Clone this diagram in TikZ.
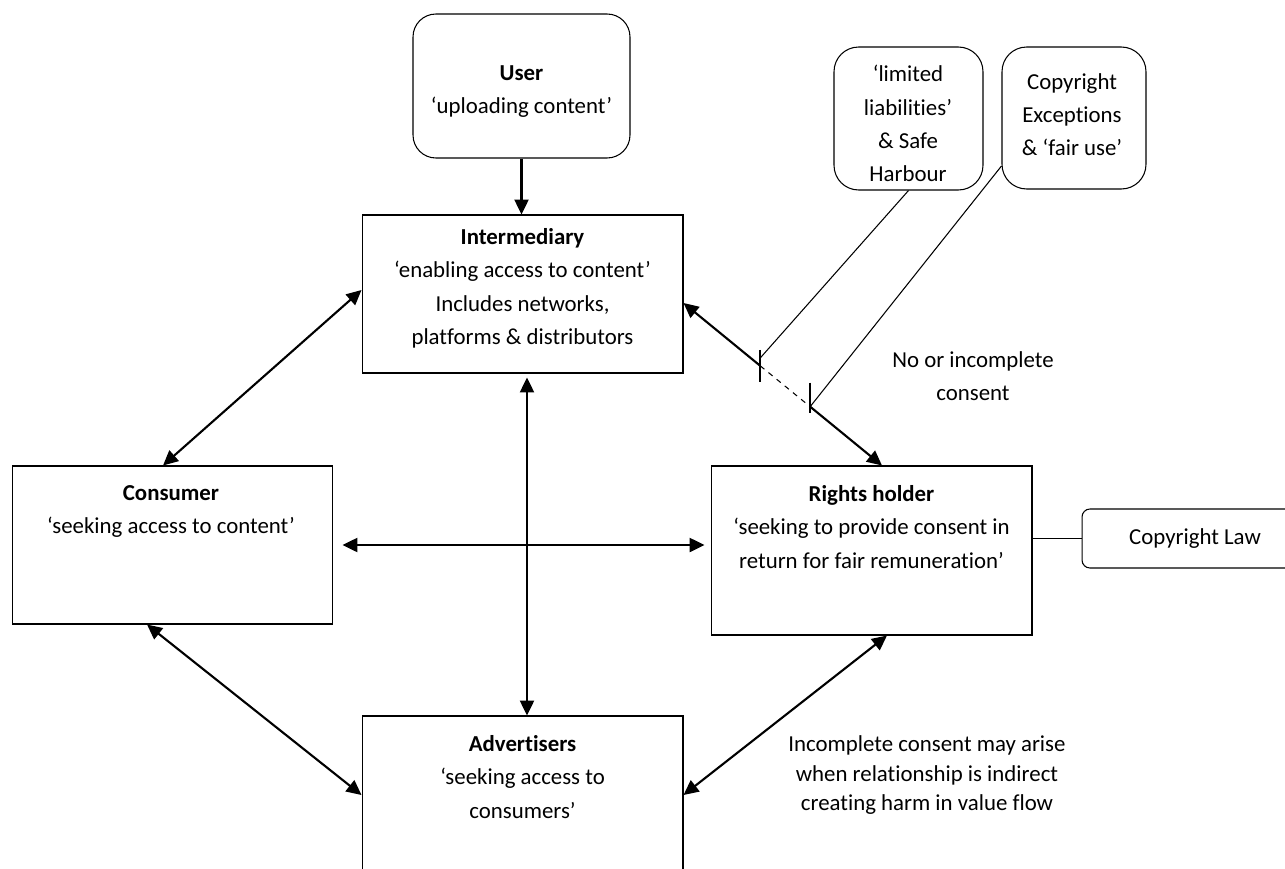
\documentclass[tikz,border=0pt]{standalone}
\usepackage{fontspec}
\setmainfont{Carlito}[Ligatures=NoCommon]
\usetikzlibrary{arrows.meta,calc}
\pgfkeys{/pixel/.code=\tikzset{x={(0.02cm,0cm)},y={(0cm,-0.02cm)}}}

\begin{document}
\begin{tikzpicture}[/pixel,
  font=\fontsize{13pt}{19pt}\selectfont,
  box/.style={draw,line width=.6pt,inner sep=0pt,minimum width=6.42cm,minimum height=3.16cm},
  rbox/.style={box,rounded corners=#1},
  txt/.style={align=center,inner sep=0pt,anchor=north},
  arr/.style={line width=1.2pt,-{Triangle[length=8.5pt,width=8pt]}},
  darr/.style={line width=1.2pt,{Triangle[length=8.5pt,width=8pt]}-{Triangle[length=8.5pt,width=8pt]}},
  link/.style={line width=.6pt},
  tick/.style={line width=1.2pt}]
\useasboundingbox (0,0) rectangle (1285,869);
% boxes
\node[rbox=13pt,minimum width=4.34cm,minimum height=2.88cm] (user) at (521.5,86) {};
\node[box] (inter) at (522.5,294) {};
\node[box] (cons) at (172.5,545) {};
\node[box,minimum height=3.38cm] (rights) at (871.5,550.5) {};
\node[box] (adv) at (522.5,795) {};
\node[rbox=14pt,minimum width=2.98cm,minimum height=2.86cm] (lim) at (908.5,118.5) {};
\node[rbox=14pt,minimum width=2.88cm,minimum height=2.84cm] (exc) at (1074,118) {};
\node[rbox=4.5pt,minimum width=4.52cm,minimum height=1.18cm] (law) at (1195,538.5) {Copyright Law};
% texts
\node[txt] (usertxt) at (521.5,65) {\textbf{User}\\‘uploading content’};
\node[txt] (intertxt) at (522.5,228) {\textbf{Intermediary}\\‘enabling access to content’\\Includes networks,\\platforms \& distributors};
\node[txt] (constxt) at (171,485) {\textbf{Consumer}\\‘seeking access to content’};
\node[txt] (rightstxt) at (871.5,485) {\textbf{Rights holder}\\‘seeking to provide consent in\\return for fair remuneration’};
\node[txt] (advtxt) at (522.5,735) {\textbf{Advertisers}\\‘seeking access to\\consumers’};
\node[txt] (limtxt) at (908,65) {‘limited\\liabilities’\\\& Safe\\Harbour};
\node[txt] (exctxt) at (1072,73) {Copyright\\Exceptions\\\& ‘fair use’};
\node[txt] (nocons) at (973,351) {No or incomplete\\consent};
\node[txt,font=\fontsize{13pt}{17pt}\selectfont] (incons) at (927,735) {Incomplete consent may arise\\when relationship is indirect\\creating harm in value flow};
% arrows
\draw[arr] (user.south) -- (user.south |- inter.north);
\draw[darr] ([xshift=-.19cm]cons.north) -- ([yshift=.08cm]inter.west);
\draw[darr] ([xshift=.18cm]cons.east) -- ([xshift=-.12cm]rights.west |- cons.east);
\draw[darr] ([xshift=.09cm,yshift=-.08cm]inter.south) -- ([xshift=.09cm]adv.north);
\draw[darr] ([xshift=-.51cm]cons.south) -- (adv.west);
\draw[darr] ([xshift=.31cm]rights.south) -- (adv.east);
\draw[link] (law.west -| rights.east) -- (law.west);
% intermediary to rights holder, broken by exceptions
\coordinate (p1) at ([yshift=-.18cm]inter.east);
\coordinate (p2) at ([xshift=.21cm]rights.north);
\coordinate (t1) at ($(p1)!0.387!(p2)$);
\coordinate (t2) at ($(p1)!0.638!(p2)$);
\draw[arr] (t1) -- (p1);
\draw[link,dash pattern=on 3pt off 3pt] (t1) -- (t2);
\draw[arr] (t2) -- (p2);
\draw[tick] ([yshift=.32cm]t1) -- ([yshift=-.32cm]t1);
\draw[tick] ([yshift=.48cm]t2) -- ([yshift=-.12cm]t2);
\draw[link] (lim.south) -- ([yshift=.16cm]t1);
\draw[link] ([yshift=-.96cm]exc.west) -- (t2);
\end{tikzpicture}
\end{document}
